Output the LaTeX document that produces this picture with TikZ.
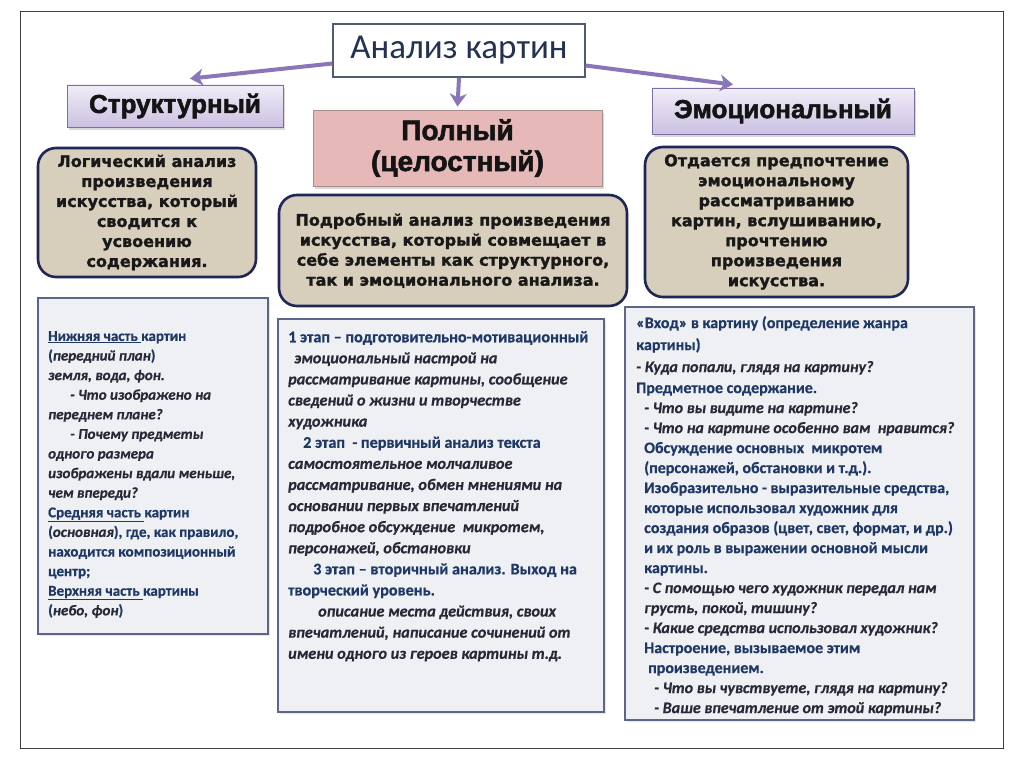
\documentclass[tikz,border=0pt]{standalone}
\usepackage{fontspec}
\setmainfont{Carlito}[BoldFeatures={FakeBold=0.6}, BoldItalicFeatures={FakeBold=0.6}]
\newfontfamily\arialf{Liberation Sans}[BoldFeatures={FakeBold=2}]
\newfontfamily\heavyf{DejaVu Sans}[BoldFeatures={FakeBold=1.5}]
\usetikzlibrary{arrows.meta,shadows}
\definecolor{frameC}{HTML}{404040}
\definecolor{arrC}{HTML}{8A75B8}
\definecolor{lavTop}{HTML}{F1EDF8}
\definecolor{lavBot}{HTML}{CBC0E1}
\definecolor{lavLine}{HTML}{7E6CA3}
\definecolor{pinkC}{HTML}{E6B9B8}
\definecolor{pinkLine}{HTML}{A88D8C}
\definecolor{tanC}{HTML}{D8CEBC}
\definecolor{tanLine}{HTML}{1D2656}
\definecolor{grayC}{HTML}{EEF0F4}
\definecolor{grayLine}{HTML}{5D6689}
\definecolor{navyT}{HTML}{1F3864}
\definecolor{itT}{HTML}{262A36}
\definecolor{titleT}{HTML}{223250}
\newcommand{\itx}[1]{\textcolor{itT}{\itshape #1}}
\tikzset{
  x=1pt, y=-1pt,
  arr/.style={arrC, line width=4pt, -{Stealth[length=13pt,width=17pt,inset=4pt]}},
  titlebox/.style={draw=titleT!80, line width=1.2pt, fill=white, minimum width=252pt, minimum height=53pt, inner sep=0pt,
     font=\fontsize{35}{38}\selectfont, text=titleT},
  headbox/.style={draw=lavLine, line width=0.8pt, top color=lavTop, bottom color=lavBot, inner sep=0pt,
     drop shadow={opacity=0.3, shadow xshift=2pt, shadow yshift=-3pt},
     font=\arialf\bfseries\fontsize{26}{30}\selectfont, text=black!92},
  pinkbox/.style={draw=pinkLine, line width=0.8pt, fill=pinkC, inner sep=0pt, align=center,
     drop shadow={opacity=0.3, shadow xshift=2pt, shadow yshift=-3pt},
     font=\arialf\bfseries\fontsize{28}{31}\selectfont, text=black!92},
  tanbox/.style={draw=tanLine, line width=2.6pt, fill=tanC, rounded corners=18pt, inner sep=0pt, align=center,
     font=\heavyf\bfseries\fontsize{16}{20}\selectfont, text=black!90},
  graybox/.style={draw=grayLine, line width=1.2pt, fill=grayC, inner sep=0pt,
     drop shadow={opacity=0.2, shadow xshift=1.5pt, shadow yshift=-1.5pt}},
  txt/.style={anchor=north west, inner sep=0pt, align=left, text=navyT},
}
\begin{document}
\begin{tikzpicture}
\useasboundingbox[fill=white] (0,0) rectangle (1024,767);
\draw[frameC, line width=1pt] (20,12) rectangle (1003,748);

% title and headers
\node[titlebox] (title) at (459,50.5) {Анализ картин};
\node[headbox, minimum width=216pt, minimum height=42pt] (struct) at (175,106) {Структурный};
\node[pinkbox, minimum width=289pt, minimum height=76pt] (full) at (457.5,148) {Полный\\(целостный)};
\node[headbox, minimum width=262pt, minimum height=46pt] (emo) at (783,111) {Эмоциональный};

% arrows
\draw[arr] ([yshift=-13pt]title.west) -- ([xshift=15pt,yshift=6pt]struct.north);
\draw[arr] (title.south) -- ([yshift=3pt]full.north);
\draw[arr] ([yshift=-15pt]title.east) -- ([xshift=-50pt,yshift=3pt]emo.north);

% tan boxes
\node[tanbox, minimum width=218pt, minimum height=129pt] (tanL) at (147,212.5)
  {Логический анализ\\произведения\\искусства, который\\сводится к\\усвоению\\содержания.};
\node[tanbox, minimum width=348pt, minimum height=111pt] (tanM) at (453,250.5)
  {Подробный анализ произведения\\искусства, который совмещает в\\себе элементы как структурного,\\так и эмоционального анализа.};
\node[tanbox, minimum width=263pt, minimum height=150pt] (tanR) at (776.5,222)
  {Отдается предпочтение\\эмоциональному\\рассматриванию\\картин, вслушиванию,\\прочтению\\произведения\\искусства.};

% gray boxes
\node[graybox, minimum width=230pt, minimum height=336pt] (grL) at (153,466) {};
\node[graybox, minimum width=326pt, minimum height=393pt] (grM) at (441,515.5) {};
\node[graybox, minimum width=349pt, minimum height=413pt] (grR) at (799.5,513.5) {};

% left text
\node[txt, font=\bfseries\fontsize{15}{19.6}\selectfont] (tL) at (48,331) {%
\underline{Нижняя часть }картин\\
(\itx{передний план})\\
\itx{земля, вода, фон.}\\
\hspace*{22pt}\itx{- Что изображено на}\\
\itx{переднем плане?}\\
\hspace*{22pt}\itx{- Почему предметы}\\
\itx{одного размера}\\
\itx{изображены вдали меньше,}\\
\itx{чем впереди?}\\
\underline{Средняя часть }картин\\
(\itx{основная}), где, как правило,\\
находится композиционный\\
центр;\\
\underline{Верхняя часть }картины\\
(\itx{небо, фон})};

% middle text
\node[txt, font=\bfseries\fontsize{16.2}{21.1}\selectfont] (tM) at (288,331) {%
1 этап -- подготовительно-мотивационный\\
\hspace*{6pt}\itx{эмоциональный настрой на}\\
\itx{рассматривание картины, сообщение}\\
\itx{сведений о жизни и творчестве}\\
\itx{художника}\\
\hspace*{15pt}2 этап \ - первичный анализ текста\\
\itx{самостоятельное молчаливое}\\
\itx{рассматривание, обмен мнениями на}\\
\itx{основании первых впечатлений}\\
\itx{подробное обсуждение \ микротем,}\\
\itx{персонажей, обстановки}\\
\hspace*{25pt}3 этап -- вторичный анализ. Выход на\\
творческий уровень.\\
\hspace*{30pt}\itx{описание места действия, своих}\\
\itx{впечатлений, написание сочинений от}\\
\itx{имени одного из героев картины т.д.}};

% right text
\node[txt, font=\bfseries\fontsize{16}{20}\selectfont] (tR) at (636,316) {%
«Вход» в картину (определение жанра\\[2pt]
картины)\\[2pt]
\itx{- Куда попали, глядя на картину?}\\[1pt]
Предметное содержание.\\
\hspace*{8pt}\itx{- Что вы видите на картине?}\\
\hspace*{8pt}\itx{- Что на картине особенно вам \ нравится?}\\
\hspace*{8pt}Обсуждение основных \ микротем\\
\hspace*{8pt}(персонажей, обстановки и т.д.).\\
\hspace*{8pt}Изобразительно - выразительные средства,\\
\hspace*{8pt}которые использовал художник для\\
\hspace*{8pt}создания образов (цвет, свет, формат, и др.)\\
\hspace*{8pt}и их роль в выражении основной мысли\\
\hspace*{8pt}картины.\\
\hspace*{8pt}\itx{- С помощью чего художник передал нам}\\
\hspace*{8pt}\itx{грусть, покой, тишину?}\\
\hspace*{8pt}\itx{- Какие средства использовал художник?}\\
\hspace*{8pt}Настроение, вызываемое этим\\
\hspace*{12pt}произведением.\\
\hspace*{18pt}\itx{- Что вы чувствуете, глядя на картину?}\\
\hspace*{18pt}\itx{- Ваше впечатление от этой картины?}};
\end{tikzpicture}
\end{document}
